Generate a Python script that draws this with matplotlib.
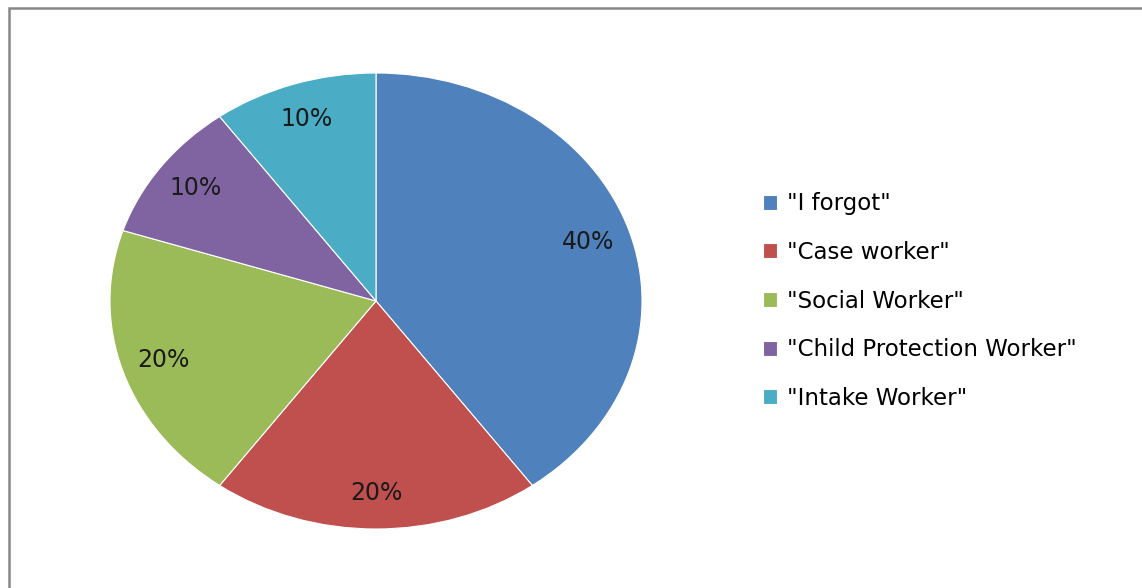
import matplotlib.pyplot as plt
from matplotlib.patches import Rectangle

# Survey answers and their shares (percent)
labels = ['"I forgot"', '"Case worker"', '"Social Worker"',
          '"Child Protection Worker"', '"Intake Worker"']
shares = [40, 20, 20, 10, 10]
colors = ['#4F81BD', '#C0504D', '#9BBB59', '#8064A2', '#4BACC6']

plt.rcParams['font.family'] = ['DejaVu Sans']

W, H = 1142, 588
fig = plt.figure(figsize=(W / 100, H / 100), dpi=100)

# outer grey chart frame (right and bottom edges fall off the picture)
fig.patches.append(Rectangle((8.5 / W, -0.1), 1.2, 1 - 8 / H + 0.1,
                             transform=fig.transFigure, fill=False,
                             edgecolor='#888888', linewidth=1.8))

# pie is drawn as an ellipse: axes box = bounding box of the ellipse
cx, cy, rx, ry = 376, 301, 266, 228
pad = 1.05
ax = fig.add_axes([(cx - rx * pad) / W, (H - cy - ry * pad) / H,
                   2 * rx * pad / W, 2 * ry * pad / H])
wedges, texts, autotexts = ax.pie(
    shares, colors=colors, startangle=90, counterclock=False,
    autopct='%1.0f%%', pctdistance=0.84,
    wedgeprops=dict(edgecolor='white', linewidth=0.8),
    textprops=dict(fontsize=17, color='#1a1a1a'))
ax.set_aspect('auto')
ax.set_xlim(-pad, pad)
ax.set_ylim(-pad, pad)
ax.axis('off')

fig.legend(wedges, labels, loc='center left',
           bbox_to_anchor=(742 / W, 1 - 301 / H), frameon=False,
           fontsize=16.5, handlelength=0.62, handleheight=0.62,
           handletextpad=0.45, labelspacing=1.12)

fig.savefig('out.png', dpi=100)
